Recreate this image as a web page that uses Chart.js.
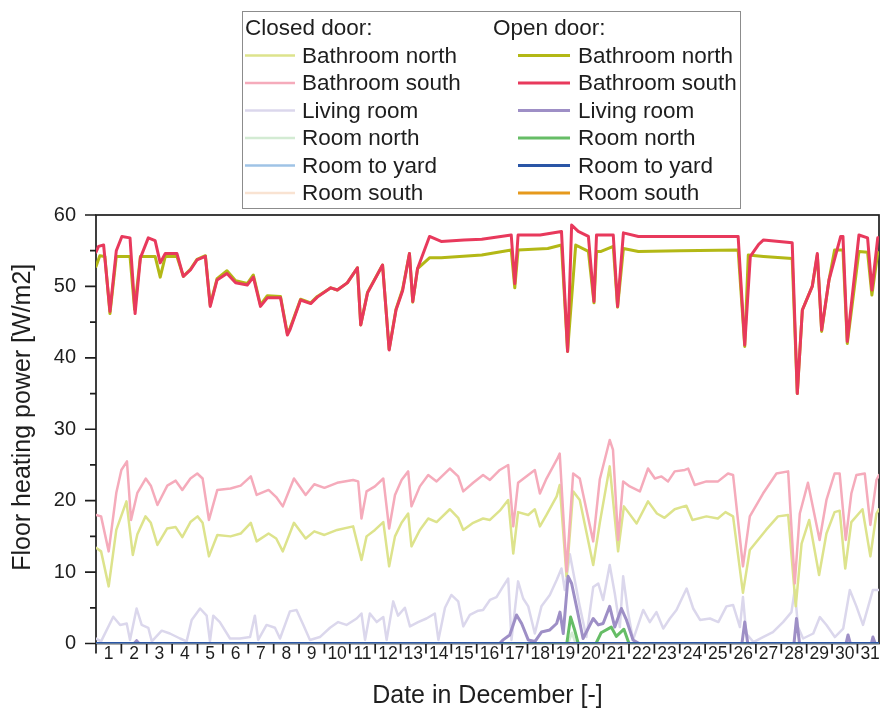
<!DOCTYPE html>
<html>
<head>
<meta charset="utf-8">
<script src="https://cdn.jsdelivr.net/npm/chart.js@4.4.1/dist/chart.umd.min.js"></script>
<style>
  html, body { margin: 0; padding: 0; background: #fff; }
  canvas { display: block; }
</style>
</head>
<body>
<canvas id="myChart" width="882" height="713"></canvas>
<script>
// 凡例の見出しと部屋名
const doorStates = ['Closed door:', 'Open door:']
const rooms = ['Bathroom north', 'Bathroom south', 'Living room', 'Room north', 'Room to yard', 'Room south']

// x軸のラベル（12月の日付）とy軸の目盛り
const dayLabels = ['1','2','3','4','5','6','7','8','9','10','11','12','13','14','15','16',
  '17','18','19','20','21','22','23','24','25','26','27','28','29','30','31']
const yTicks = [0, 10, 20, 30, 40, 50, 60]
const yTitle = 'Floor heating power [W/m2]'

// 各系列のデータ [12/1 0時からの日数, 床暖房出力 W/m2]
// --- ドアを閉めた場合 ---
const closedBathNorth = [[0,13.4],[0.2,12.9],[0.5,8.0],[0.8,15.9],[1.2,19.9],[1.45,12.4],[1.63,15.3],[1.95,17.8],
  [2.16,16.9],[2.42,13.8],[2.8,16.1],[3.14,16.3],[3.4,14.9],[3.72,17.0],[4.0,17.8],[4.2,16.9],[4.45,12.2],
  [4.78,15.2],[5.3,15.0],[5.7,15.4],[6.1,16.9],[6.33,14.3],[6.8,15.4],[7.1,14.7],[7.36,12.9],[7.8,16.9],
  [8.26,14.7],[8.6,15.7],[9.0,15.2],[9.5,15.9],[10.13,16.4],[10.46,11.7],[10.66,15.0],[10.99,15.9],[11.32,17.0],
  [11.55,10.8],[11.78,15.0],[12.04,16.9],[12.3,18.2],[12.43,13.6],[12.76,15.9],[13.09,17.5],[13.42,17.0],
  [13.94,18.8],[14.27,17.6],[14.47,15.9],[14.86,16.9],[15.25,17.5],[15.52,17.3],[15.91,18.6],[16.24,20.1],
  [16.44,12.6],[16.63,18.4],[17.03,18.0],[17.29,18.8],[17.49,16.4],[17.75,18.0],[18.15,20.6],[18.27,22.2],
  [18.54,9.4],[18.8,21.3],[19.06,20.1],[19.59,11.0],[19.85,16.9],[20.24,24.8],[20.57,12.9],[20.8,19.2],
  [21.3,16.8],[21.75,19.9],[22.1,18.2],[22.4,17.6],[22.8,18.8],[23.26,19.3],[23.5,17.3],[24.05,17.8],
  [24.5,17.5],[24.8,18.4],[25.1,17.8],[25.49,7.1],[25.76,13.1],[26.4,15.9],[26.87,17.8],[27.27,18.0],
  [27.57,5.2],[27.8,14.0],[28.1,17.3],[28.49,9.6],[28.78,15.4],[29.1,18.4],[29.3,18.6],[29.52,10.5],
  [29.76,17.0],[30.2,18.8],[30.51,12.2],[30.75,18.2],[30.85,18.8]]
const closedBathSouth = [[0,18.0],[0.2,17.8],[0.5,12.9],[0.8,21.1],[1.0,24.3],[1.22,25.5],[1.38,17.3],[1.63,21.1],
  [1.96,23.1],[2.16,22.1],[2.42,19.4],[2.81,22.1],[3.14,22.8],[3.4,21.5],[3.72,23.1],[3.99,23.8],[4.2,23.1],
  [4.45,17.3],[4.78,21.5],[5.3,21.7],[5.7,22.1],[6.1,23.4],[6.33,20.8],[6.8,21.5],[7.1,20.5],[7.36,19.2],
  [7.8,23.1],[8.26,20.8],[8.6,22.3],[9.0,21.8],[9.5,22.5],[10.13,22.9],[10.33,22.7],[10.46,17.5],[10.66,21.3],
  [10.99,22.0],[11.32,23.1],[11.55,16.1],[11.78,20.8],[12.04,22.9],[12.3,24.1],[12.43,19.2],[12.76,22.0],
  [13.09,23.6],[13.42,22.7],[13.94,24.5],[14.27,23.4],[14.47,21.3],[14.86,22.5],[15.25,23.6],[15.52,22.9],
  [15.91,24.3],[16.24,25.0],[16.44,16.4],[16.63,22.5],[17.03,23.6],[17.29,24.3],[17.49,21.0],[17.75,23.1],
  [18.15,25.7],[18.27,26.6],[18.54,10.1],[18.8,23.8],[19.06,23.1],[19.59,14.3],[19.85,23.0],[20.24,28.5],
  [20.37,27.1],[20.57,14.5],[20.77,22.7],[21.03,22.0],[21.43,21.3],[21.75,24.5],[22.02,23.1],[22.28,23.4],
  [22.54,22.7],[22.8,24.1],[23.2,24.3],[23.33,24.5],[23.59,22.2],[24.05,22.7],[24.51,22.7],[24.9,23.8],
  [25.1,23.6],[25.49,10.8],[25.76,17.8],[26.28,21.0],[26.81,23.8],[27.27,24.1],[27.53,8.4],[27.73,18.2],
  [28.05,22.5],[28.51,14.5],[28.78,20.1],[29.1,23.8],[29.3,23.8],[29.54,14.5],[29.76,21.0],[29.96,23.6],
  [30.29,23.8],[30.51,16.6],[30.75,22.9],[30.85,23.6]]
const closedLiving = [[0,0.7],[0.2,0.3],[0.68,3.75],[0.95,2.6],[1.21,2.8],[1.34,0.5],[1.6,4.9],[1.8,2.6],
  [2.06,2.2],[2.2,0.3],[2.59,1.8],[2.91,1.4],[3.31,0.7],[3.57,0.3],[3.77,3.3],[4.1,4.9],[4.36,3.9],[4.49,0.3],
  [4.62,3.9],[4.88,3.0],[5.28,0.7],[5.67,0.7],[6.07,0.9],[6.26,3.9],[6.39,0.5],[6.72,2.6],[7.05,2.2],
  [7.25,0.7],[7.64,4.5],[7.9,4.7],[8.17,2.6],[8.43,0.5],[8.82,0.9],[9.22,2.2],[9.54,3.0],[9.87,2.6],
  [10.27,3.5],[10.46,4.2],[10.6,0.5],[10.79,4.2],[11.06,3.0],[11.32,3.7],[11.45,0.5],[11.71,5.9],[11.9,3.9],
  [12.17,5.0],[12.37,2.4],[12.69,3.0],[13.02,3.5],[13.35,4.2],[13.49,0.5],[13.75,5.0],[14.0,6.8],[14.27,5.9],
  [14.47,2.4],[14.73,4.0],[15.06,4.6],[15.25,4.7],[15.52,6.1],[15.78,6.5],[16.04,8.0],[16.24,9.1],[16.37,0.5],
  [16.63,8.7],[16.83,6.3],[17.03,5.2],[17.29,1.4],[17.55,5.2],[17.88,6.8],[18.15,8.9],[18.34,10.5],[18.47,7.5],
  [18.67,12.5],[19.06,5.2],[19.32,0.9],[19.59,7.9],[19.79,8.4],[19.98,6.1],[20.24,11.0],[20.44,7.0],[20.64,2.3],
  [20.77,9.4],[20.96,4.4],[21.16,0.5],[21.56,4.7],[21.82,3.0],[22.08,4.4],[22.35,2.1],[22.61,3.5],[22.87,4.7],
  [23.27,7.7],[23.53,4.9],[23.8,3.3],[24.19,3.5],[24.52,3.0],[24.84,5.2],[25.1,5.4],[25.37,2.3],[25.49,6.5],
  [25.62,1.4],[25.9,0.2],[26.28,0.9],[26.67,1.6],[27.07,3.0],[27.4,4.4],[27.53,7.5],[27.66,2.3],[27.86,0.7],
  [28.26,1.4],[28.52,3.7],[28.78,2.6],[29.11,0.9],[29.44,2.1],[29.7,7.5],[29.96,5.2],[30.22,2.6],[30.61,7.5],
  [30.85,7.5]]
const closedRoomNorth = [[0,0],[18.6,0],[18.75,1.5],[18.9,0],[30.85,0]]
const closedRoomYard = [[0,0],[30.85,0]]
const closedRoomSouth = [[0,0],[30.85,0]]

// --- ドアを開けた場合 ---
const openBathNorth = [[0,52.8],[0.15,54.3],[0.35,54.2],[0.55,46.2],[0.8,54.2],[1.34,54.2],[1.52,46.8],[1.75,54.2],
  [2.33,54.2],[2.53,51.3],[2.73,54.2],[3.19,54.2],[3.44,51.4],[3.72,52.4],[3.98,53.8],[4.31,54.3],[4.5,47.4],
  [4.77,51.1],[5.16,52.2],[5.5,50.8],[5.96,50.4],[6.2,51.6],[6.48,47.4],[6.75,48.7],[7.27,48.6],[7.54,43.4],
  [7.65,44.2],[8.06,48.2],[8.46,47.7],[8.72,48.6],[9.25,49.8],[9.51,49.5],[9.9,50.5],[10.3,52.6],[10.43,44.6],
  [10.7,49.2],[11.29,53.0],[11.55,41.2],[11.82,46.8],[12.08,49.6],[12.35,54.6],[12.48,47.8],[12.67,52.5],
  [13.14,54.0],[13.6,54.0],[15.2,54.4],[16.36,55.1],[16.5,49.8],[16.63,55.1],[17.8,55.3],[18.34,55.8],
  [18.58,40.9],[18.9,55.8],[19.4,54.9],[19.62,47.7],[19.72,54.9],[19.9,54.9],[20.38,55.6],[20.55,47.1],
  [20.78,55.3],[21.37,54.9],[23.0,55.0],[25.3,55.1],[25.56,41.6],[25.7,54.4],[26.3,54.2],[27.43,53.9],
  [27.63,35.0],[27.83,46.7],[28.22,50.0],[28.42,54.4],[28.59,43.7],[28.88,50.9],[29.1,55.1],[29.43,55.1],
  [29.6,42.0],[30.06,54.9],[30.4,54.8],[30.57,48.8],[30.8,54.7],[30.85,54.7]]
const openBathSouth = [[0,54.8],[0.1,55.6],[0.3,55.8],[0.55,46.5],[0.8,55.0],[1.02,57.0],[1.34,56.8],[1.54,46.2],
  [1.75,54.0],[2.06,56.8],[2.33,56.4],[2.53,53.3],[2.73,54.6],[3.19,54.6],[3.44,51.4],[3.72,52.3],[3.98,53.7],
  [4.31,54.2],[4.5,47.2],[4.77,50.9],[5.16,51.8],[5.5,50.5],[5.96,50.2],[6.2,51.3],[6.48,47.2],[6.75,48.4],
  [7.27,48.4],[7.54,43.2],[7.65,44.0],[8.06,48.1],[8.46,47.6],[8.72,48.5],[9.25,49.8],[9.51,49.5],[9.9,50.5],
  [10.3,52.6],[10.43,44.6],[10.7,49.1],[11.29,53.0],[11.55,41.1],[11.82,46.7],[12.08,49.4],[12.35,54.6],
  [12.48,47.9],[12.67,52.5],[13.14,57.0],[13.6,56.3],[14.5,56.5],[15.2,56.6],[16.36,57.2],[16.5,50.4],
  [16.63,57.2],[17.5,57.2],[18.34,57.7],[18.58,40.9],[18.74,58.6],[19.0,57.7],[19.4,57.0],[19.62,47.9],
  [19.72,57.2],[20.38,57.2],[20.55,47.2],[20.78,57.5],[21.37,57.0],[25.3,57.0],[25.56,41.8],[25.78,54.2],
  [26.11,55.9],[26.3,56.5],[27.43,56.1],[27.63,35.0],[27.83,46.7],[28.22,50.0],[28.42,54.6],[28.59,43.9],
  [28.88,50.9],[29.34,57.0],[29.43,57.0],[29.6,42.3],[30.06,57.2],[30.4,56.8],[30.57,49.5],[30.8,56.8],
  [30.85,56.8]]
const openLiving = [[0,0],[1.5,0],[1.6,0.4],[1.7,0],[15.9,0],[16.04,0.5],[16.3,1.2],[16.57,4.0],[16.77,2.8],
  [17.03,0.5],[17.3,0.3],[17.55,1.6],[17.88,1.9],[18.15,2.8],[18.28,4.4],[18.41,1.4],[18.6,9.4],[18.74,8.4],
  [18.93,5.2],[19.19,0.7],[19.59,3.5],[19.79,2.6],[19.98,2.8],[20.24,5.2],[20.44,2.3],[20.7,4.9],[20.9,3.3],
  [21.16,0.5],[21.4,0],[25.45,0],[25.56,3.0],[25.68,0],[27.5,0],[27.6,3.5],[27.72,0],[29.55,0],[29.63,1.2],
  [29.72,0],[30.55,0],[30.61,0.9],[30.7,0],[30.85,0]]
const openRoomNorth = [[0,0],[18.55,0],[18.7,3.7],[18.85,2.0],[19.0,0],[19.7,0],[19.9,1.5],[20.3,2.3],
  [20.5,1.0],[20.8,2.0],[21.0,0],[30.85,0]]
const openRoomYard = [[0,0],[30.85,0]]
const openRoomSouth = [[0,0],[30.85,0]]

const closedSeries = [closedBathNorth, closedBathSouth, closedLiving, closedRoomNorth, closedRoomYard, closedRoomSouth]
const openSeries = [openBathNorth, openBathSouth, openLiving, openRoomNorth, openRoomYard, openRoomSouth]

// 線の色（淡い色 = ドア閉、濃い色 = ドア開）
const closedColors = ['#dde38c', '#f5abbb', '#dbd7ec', '#d3ebd3', '#9fc3e6', '#f9e3d2']
const openColors = ['#b3b816', '#e8395c', '#9e8fc6', '#66bd66', '#2a56a6', '#e6991c']
// 描画順（小さいほど手前）
const closedOrder = [8, 7, 9, 10, 6, 11]
const openOrder = [2, 1, 3, 4, 0, 5]

const toPoints = (arr) => arr.map(([x, y]) => ({ x: x, y: y }))

const datasets = []
closedSeries.forEach((s, i) => {
  datasets.push({
    label: rooms[i] + ' (closed)',
    data: toPoints(s),
    borderColor: closedColors[i],
    borderWidth: 2.5,
    order: closedOrder[i],
  })
})
openSeries.forEach((s, i) => {
  datasets.push({
    label: rooms[i] + ' (open)',
    data: toPoints(s),
    borderColor: openColors[i],
    borderWidth: 3,
    order: openOrder[i],
  })
})

const FONT = '"Liberation Sans", Arial, sans-serif'
const INK = '#1e1e1e'

// 枠線と目盛り（日の境目・補助目盛り）
const frameTicks = {
  id: 'frameTicks',
  beforeDatasetsDraw(chart) {
    const { ctx, chartArea: a, scales } = chart
    ctx.save()
    ctx.strokeStyle = INK
    ctx.lineWidth = 1.7
    ctx.strokeRect(a.left, a.top, a.right - a.left, a.bottom - a.top)
    ctx.beginPath()
    for (let d = 0; d <= 30; d++) {
      const px = scales.x.getPixelForValue(d)
      ctx.moveTo(px, a.bottom)
      ctx.lineTo(px, a.bottom + 10)
    }
    yTicks.forEach((v) => {
      const py = scales.y.getPixelForValue(v)
      ctx.moveTo(a.left - 11, py)
      ctx.lineTo(a.left, py)
    })
    for (let v = 5; v < 60; v += 10) {
      const py = scales.y.getPixelForValue(v)
      ctx.moveTo(a.left - 6, py)
      ctx.lineTo(a.left, py)
    }
    ctx.stroke()

    // y軸タイトル（縦書き）
    ctx.fillStyle = INK
    ctx.font = '25px ' + FONT
    ctx.textAlign = 'center'
    ctx.textBaseline = 'middle'
    ctx.translate(23, (a.top + a.bottom) / 2 - 12)
    ctx.rotate(-Math.PI / 2)
    ctx.fillText(yTitle, 0, 0)
    ctx.restore()
  },
}

// 2列の凡例（ドア閉 / ドア開）
const doorLegend = {
  id: 'doorLegend',
  afterDraw(chart) {
    const ctx = chart.ctx
    const ds = chart.data.datasets
    ctx.save()
    ctx.strokeStyle = '#8c8c8c'
    ctx.lineWidth = 1
    ctx.strokeRect(242.5, 11.5, 498, 197)
    ctx.font = '22.5px ' + FONT
    ctx.fillStyle = INK
    ctx.textBaseline = 'middle'
    ctx.textAlign = 'left'
    const cols = [
      { head: 245, x0: 245, x1: 295, text: 302 },
      { head: 493, x0: 518, x1: 570, text: 578 },
    ]
    cols.forEach((c, k) => {
      ctx.fillText(doorStates[k], c.head, 29)
      rooms.forEach((name, i) => {
        const y = 55.5 + i * 27.5
        const d = ds[k * rooms.length + i]
        ctx.strokeStyle = d.borderColor
        ctx.lineWidth = d.borderWidth
        ctx.beginPath()
        ctx.moveTo(c.x0, y)
        ctx.lineTo(c.x1, y)
        ctx.stroke()
        ctx.fillText(name, c.text, y + 1)
      })
    })
    ctx.restore()
  },
}

const ctx = document.getElementById('myChart').getContext('2d')
const myChart = new Chart(ctx, {
  type: 'line',
  data: { datasets: datasets },
  options: {
    responsive: false,
    animation: false,
    devicePixelRatio: 1,
    layout: { padding: { top: 215, right: 3, bottom: 0, left: 0 } },
    elements: {
      point: { radius: 0, hoverRadius: 0 },
      line: { tension: 0, borderJoinStyle: 'round', borderCapStyle: 'round' },
    },
    plugins: {
      legend: { display: false },
      tooltip: { enabled: false },
    },
    scales: {
      x: {
        type: 'linear',
        min: 0,
        max: 30.85,
        grid: { display: false, drawTicks: false },
        border: { display: false },
        // ラベルは各日の中央に置く
        afterBuildTicks: (scale) => {
          scale.ticks = dayLabels.map((_, i) => ({ value: i + 0.5 }))
        },
        ticks: {
          autoSkip: false,
          maxRotation: 0,
          padding: 0,
          color: INK,
          font: { family: FONT, size: 17.5 },
          callback: (value, index) => dayLabels[index],
        },
        title: {
          display: true,
          text: 'Date in December [-]',
          color: INK,
          font: { family: FONT, size: 25 },
          padding: { top: 0, bottom: 2 },
        },
        afterFit: (scale) => { scale.height = 69.5 },
      },
      y: {
        min: 0,
        max: 60,
        grid: { display: false, drawTicks: false },
        border: { display: false },
        afterBuildTicks: (scale) => {
          scale.ticks = yTicks.map((v) => ({ value: v }))
        },
        ticks: {
          padding: 20,
          color: INK,
          font: { family: FONT, size: 20 },
        },
        afterFit: (scale) => { scale.width = 96 },
      },
    },
  },
  plugins: [frameTicks, doorLegend],
})
</script>
</body>
</html>
